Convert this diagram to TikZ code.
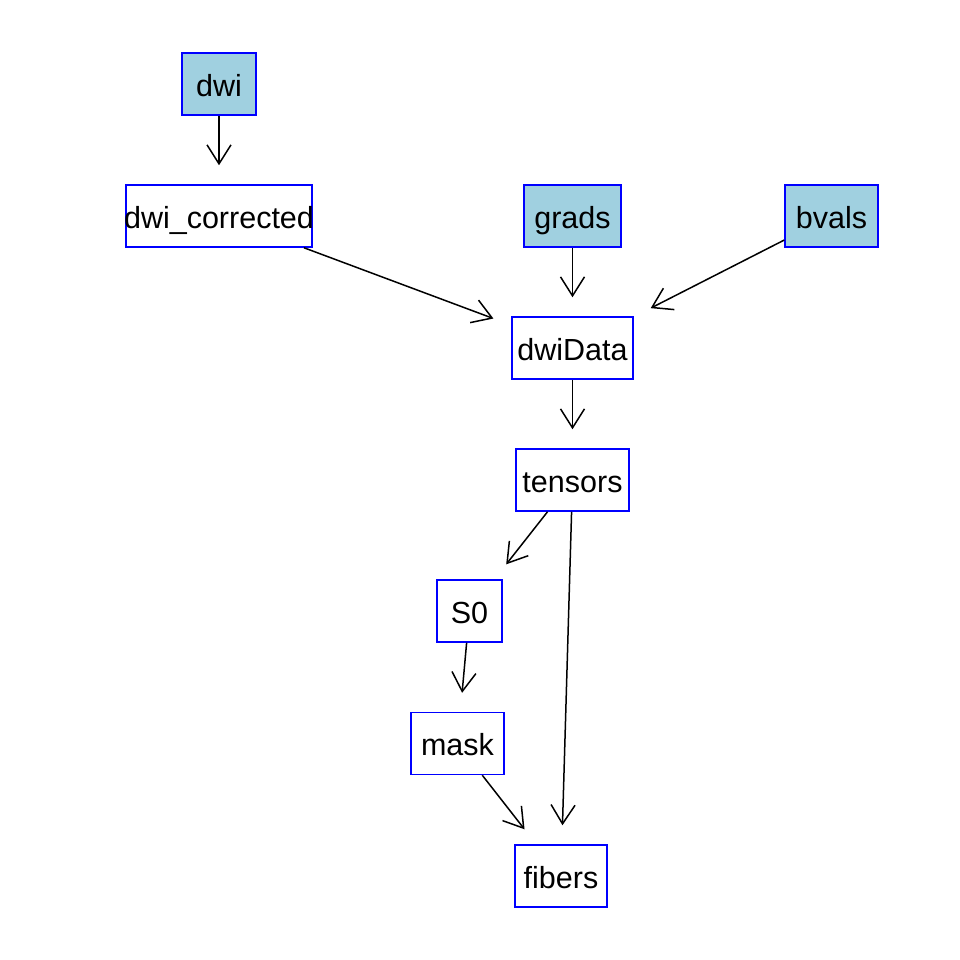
\documentclass[tikz,border=0pt]{standalone}
\usepackage{fontspec}
\setmainfont{Liberation Sans}
\usetikzlibrary{arrows.meta}
\definecolor{boxfill}{HTML}{A0D0E0}
\begin{document}
\begin{tikzpicture}[x=1pt,y=-1pt,
  box/.style={draw=blue, line width=1.5pt, rectangle, inner sep=0pt,
    minimum height=62pt, text height=24.5pt, text depth=0pt,
    font=\fontsize{30.5}{31}\selectfont},
  srcbox/.style={box, fill=boxfill},
  edge/.style={line width=1.5pt, -{Straight Barb[length=19pt,width=24pt]},
    shorten >=19pt}]
\path[use as bounding box] (0,0) rectangle (960,960);
\node[srcbox, minimum width=74pt]  (dwi)    at (219,84)    {dwi};
\node[box,    minimum width=186pt] (dwic)   at (219,216)   {\makebox[0pt]{dwi\_corrected}};
\node[srcbox, minimum width=97pt]  (grads)  at (572.5,216) {grads};
\node[srcbox, minimum width=93pt]  (bvals)  at (831.5,216) {bvals};
\node[box,    minimum width=121pt] (data)   at (572.5,348) {dwiData};
\node[box,    minimum width=113pt] (tens)   at (572.5,480) {tensors};
\node[box,    minimum width=65pt]  (szero)  at (469.5,611) {S0};
\node[box,    minimum width=93pt]  (mask)   at (457.5,743.5) {mask};
\node[box,    minimum width=92pt]  (fibers) at (561,876)   {fibers};
\draw[edge] (dwi) -- (dwic);
\draw[edge] (dwic) -- (data);
\draw[edge] (grads) -- (data);
\draw[edge] (bvals) -- (data);
\draw[edge] (data) -- (tens);
\draw[edge] (tens) -- (szero);
\draw[edge] (tens) -- (fibers);
\draw[edge] (szero) -- (mask);
\draw[edge] (mask) -- (fibers);
\end{tikzpicture}
\end{document}
